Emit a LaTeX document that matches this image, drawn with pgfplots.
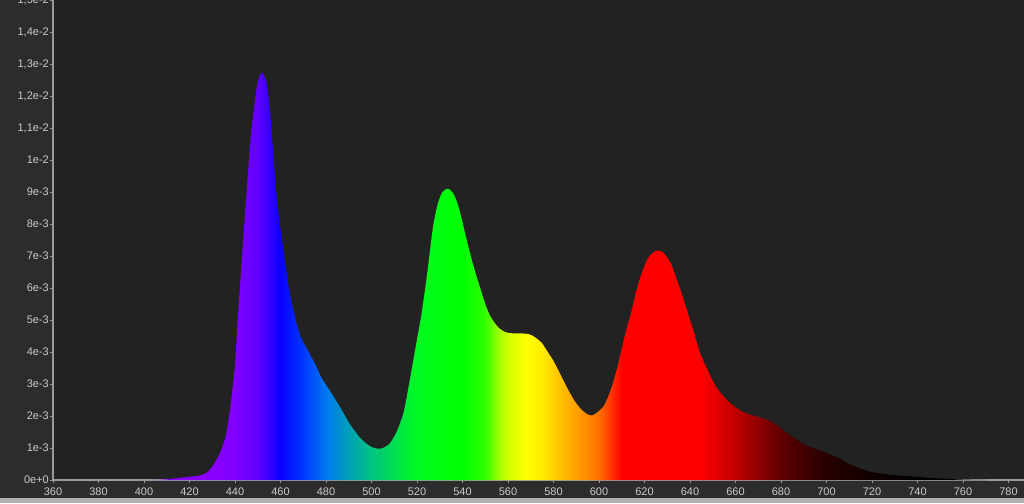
\documentclass[border=0pt]{standalone}
\usepackage{pgfplots}
\pgfplotsset{compat=1.18}
\usepackage{fontspec}
\setmainfont{Liberation Sans}
\definecolor{panelbg}{HTML}{2C2C2C}
\definecolor{plotbg}{HTML}{222222}
\definecolor{axisgrey}{HTML}{9A9A9A}
\definecolor{labelgrey}{HTML}{CACACA}
\definecolor{stripgrey}{HTML}{B0B0B0}
% spectrum colours
\definecolor{c405}{HTML}{8A00FF}
\definecolor{c440}{HTML}{8000FF}
\definecolor{c450}{HTML}{6000FF}
\definecolor{c460}{HTML}{0A00FF}
\definecolor{c470}{HTML}{0038FF}
\definecolor{c480}{HTML}{0078F0}
\definecolor{c490}{HTML}{00A0B8}
\definecolor{c500}{HTML}{00C480}
\definecolor{c510}{HTML}{00E050}
\definecolor{c520}{HTML}{00FA20}
\definecolor{c540}{HTML}{00FF00}
\definecolor{c550}{HTML}{30FF00}
\definecolor{c555}{HTML}{90FF00}
\definecolor{c560}{HTML}{D0FF00}
\definecolor{c568}{HTML}{FFFF00}
\definecolor{c575}{HTML}{FFEC00}
\definecolor{c580}{HTML}{FFD000}
\definecolor{c590}{HTML}{FFA000}
\definecolor{c600}{HTML}{FF7000}
\definecolor{c605}{HTML}{FF3800}
\definecolor{c610}{HTML}{FF0000}
\definecolor{c645}{HTML}{FF0000}
\definecolor{c660}{HTML}{C00000}
\definecolor{c670}{HTML}{900000}
\definecolor{c680}{HTML}{600000}
\definecolor{c690}{HTML}{400000}
\definecolor{c700}{HTML}{280000}
\definecolor{c720}{HTML}{100000}
\definecolor{c740}{HTML}{000000}
% path spans 405..770 nm -> 25bp..75bp
\pgfdeclarehorizontalshading{spectrum}{100bp}{%
color(0bp)=(c405); color(25bp)=(c405); color(28.42bp)=(c405);
color(29.79bp)=(c440); color(31.16bp)=(c450); color(32.53bp)=(c460);
color(33.90bp)=(c470); color(35.27bp)=(c480); color(36.64bp)=(c490);
color(38.01bp)=(c500); color(39.38bp)=(c510); color(40.75bp)=(c520);
color(43.49bp)=(c540); color(44.86bp)=(c550); color(45.55bp)=(c555);
color(46.23bp)=(c560); color(47.33bp)=(c568); color(48.29bp)=(c575);
color(48.97bp)=(c580); color(50.34bp)=(c590); color(51.71bp)=(c600);
color(52.40bp)=(c605); color(53.08bp)=(c610); color(57.88bp)=(c645);
color(59.93bp)=(c660); color(61.30bp)=(c670); color(62.67bp)=(c680);
color(64.04bp)=(c690); color(65.41bp)=(c700); color(68.15bp)=(c720);
color(70.89bp)=(c740); color(75bp)=(c740); color(100bp)=(c740)}

\pgfplotstableread{
wl v
405 0
410 0.02
415 0.06
420 0.1
425 0.15
428 0.25
430 0.42
432 0.65
434 0.95
436 1.4
438 2.3
440 3.6
441 4.8
443 6.9
445 8.9
447 10.8
449 12.0
450 12.45
451 12.65
452 12.73
453 12.6
454 12.37
455 11.8
456 11.0
457 10.0
458 9.1
459 8.4
461 7.3
463 6.3
465 5.5
467 4.9
469 4.45
472 4.05
475 3.65
478 3.2
482 2.75
486 2.3
490 1.8
494 1.4
497 1.18
500 1.03
503 0.98
505 1.0
508 1.14
511 1.5
514 2.08
516 2.8
518 3.6
520 4.4
522 5.2
524 6.2
525 6.76
527 7.9
529 8.6
531 8.98
533 9.1
534 9.1
536 8.95
538 8.6
540 8.05
542 7.45
544 6.9
546 6.4
548 5.95
550 5.5
552 5.15
554 4.92
556 4.75
558 4.65
560 4.6
563 4.58
566 4.58
569 4.56
571 4.5
573 4.4
575 4.27
577 4.05
580 3.72
583 3.3
586 2.88
589 2.5
592 2.22
595 2.05
597 2.02
599 2.1
602 2.3
604 2.6
606 3.0
608 3.5
610 4.1
612 4.7
614 5.2
616 5.8
618 6.3
620 6.7
622 6.98
624 7.12
626 7.17
628 7.12
630 6.95
632 6.7
634 6.3
636 5.9
638 5.45
640 5.0
642 4.55
644 4.05
646 3.7
648 3.4
650 3.1
652 2.85
655 2.6
658 2.38
662 2.18
666 2.05
670 1.97
674 1.88
678 1.72
682 1.5
686 1.3
690 1.12
694 1.0
698 0.9
702 0.78
706 0.66
710 0.5
714 0.38
718 0.28
722 0.22
726 0.18
730 0.15
735 0.12
740 0.1
745 0.07
750 0.05
755 0.03
760 0.015
765 0.005
770 0
}\spec

\begin{document}
\begin{tikzpicture}
\fill[panelbg] (-53pt,-23pt) rectangle (971pt,480pt);
\fill[stripgrey] (-53pt,-23pt) rectangle (971pt,-18pt);
\begin{axis}[
  scale only axis, width=971pt, height=480pt,
  at={(0pt,0pt)}, anchor=south west,
  xmin=360, xmax=786.8, ymin=0, ymax=15.0,
  axis x line*=bottom, axis y line*=left,
  axis line style={draw=axisgrey, line width=1.2pt},
  axis background/.style={fill=plotbg},
  xtick={360,380,400,420,440,460,480,500,520,540,560,580,600,620,640,660,680,700,720,740,760,780},
  xticklabels={360,380,400,420,440,460,480,500,520,540,560,580,600,620,640,660,680,700,720,740,760,780},
  ytick={0,1,2,3,4,5,6,7,8,9,10,11,12,13,14,15},
  yticklabels={0e+0,1e-3,2e-3,3e-3,4e-3,5e-3,6e-3,7e-3,8e-3,9e-3,1e-2,{1,1e-2},{1,2e-2},{1,3e-2},{1,4e-2},{1,5e-2}},
  tick align=outside, major tick length=3pt,
  tick style={draw=axisgrey, line width=0.8pt},
  ticklabel style={font=\fontsize{11}{13}\selectfont, text=labelgrey},
  yticklabel style={inner sep=1pt},
  xticklabel style={inner sep=1pt, yshift=-4pt},
]
\addplot[draw=none, shading=spectrum, smooth, tension=0.4] table[x=wl, y=v] {\spec} \closedcycle;
\end{axis}
\pgfresetboundingbox
\path[use as bounding box] (-53pt,-23pt) rectangle (971pt,480pt);
\end{tikzpicture}
\end{document}
